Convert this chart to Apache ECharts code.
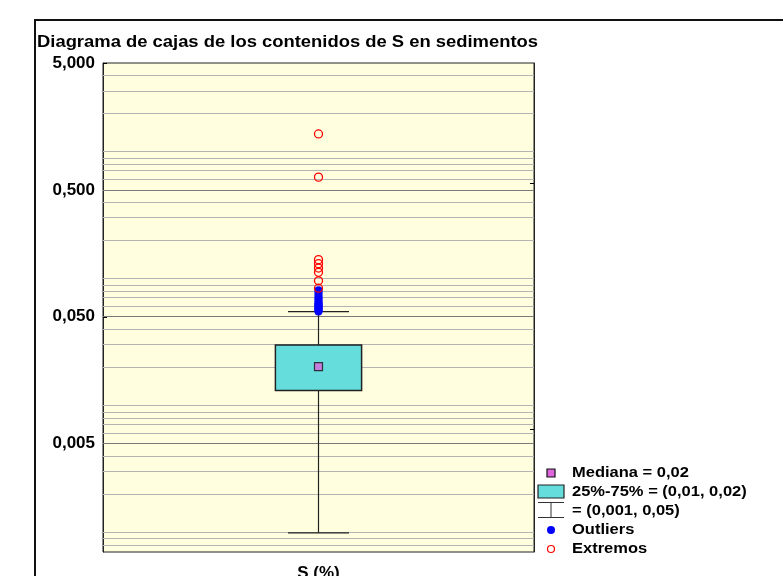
<!DOCTYPE html>
<html>
<head>
<meta charset="utf-8">
<script src="https://cdn.jsdelivr.net/npm/echarts@6/dist/echarts.min.js"></script>
<style>
  html, body { margin: 0; padding: 0; background: #fff; }
  #chart { width: 783px; height: 576px; }
</style>
</head>
<body>
<div id="chart"></div>
<script>
const categories = ['S (%)'];
const boxStats = [0.00099, 0.0131, 0.0202, 0.0299, 0.0548]; // min, q1, median, q3, max
const outliers = [0.055, 0.056, 0.057, 0.058, 0.059, 0.060, 0.061, 0.062, 0.063, 0.064,
                  0.066, 0.068, 0.070, 0.072, 0.075, 0.078, 0.081];
const extremes = [1.38, 0.63, 0.141, 0.131, 0.121, 0.112, 0.096, 0.084];
const labelValues = [0.005, 0.05, 0.5, 5];
const rightTickValues = [0.56, 0.06, 0.0065];
const gridValues = [0.0008, 0.0009, 0.001, 0.002, 0.003, 0.004, 0.006, 0.007, 0.008, 0.009,
                    0.01, 0.02, 0.03, 0.04, 0.06, 0.07, 0.08, 0.09,
                    0.1, 0.2, 0.3, 0.4, 0.6, 0.7, 0.8, 0.9, 1, 2, 3, 4];
const axisMin = 0.0007;
const axisMax = 5;
const titleText = 'Diagrama de cajas de los contenidos de S en sedimentos';
const legendLabels = ['Mediana = 0,02', '25%-75% = (0,01, 0,02)', '= (0,001, 0,05)', 'Outliers', 'Extremos'];

const lg = v => Math.log10(v);
const fontFam = '"Liberation Sans", Arial, sans-serif';

const chart = echarts.init(document.getElementById('chart'));

// gridlines drawn as markLines through the y scale
const gridLines = gridValues.map(v => ({ yAxis: lg(v) }))
  .concat(labelValues.slice(0, 3).map(v => ({ yAxis: lg(v), lineStyle: { color: '#7a7a7a' } })));

const renderBox = (params, api) => {
  const band = api.size([1, 0])[0];
  const cx = api.coord([api.value(0), 0])[0];
  const y = i => api.coord([api.value(0), api.value(i)])[1];
  const yMin = y(1), yQ1 = y(2), yQ3 = y(4), yMax = y(5);
  const boxW = band * 0.2;
  const capW = band * 0.1415;
  const ls = { stroke: '#222', lineWidth: 1.2 };
  return {
    type: 'group',
    children: [
      { type: 'line', shape: { x1: cx, y1: yMax, x2: cx, y2: yQ3 }, style: ls },
      { type: 'line', shape: { x1: cx, y1: yQ1, x2: cx, y2: yMin }, style: ls },
      { type: 'line', shape: { x1: cx - capW / 2, y1: yMax, x2: cx + capW / 2, y2: yMax }, style: ls },
      { type: 'line', shape: { x1: cx - capW / 2, y1: yMin, x2: cx + capW / 2, y2: yMin }, style: ls },
      { type: 'rect', shape: { x: cx - boxW / 2, y: yQ3, width: boxW, height: yQ1 - yQ3 },
        style: { fill: '#66dddd', stroke: '#222', lineWidth: 1.5 } }
    ]
  };
};

const legendY = [473, 491.5, 510.5, 530, 549];
const legendTexts = legendLabels.map((t, i) => ({
  type: 'text', x: 572, y: legendY[i], scaleX: 1.1,
  style: { text: t, x: 0, y: 0, font: 'bold 15px ' + fontFam, fill: '#000', verticalAlign: 'middle' }
}));

const option = {
  animation: false,
  backgroundColor: '#fff',
  grid: { left: 103, right: 249, top: 63, bottom: 24, show: true, outerBoundsMode: 'none',
          backgroundColor: '#ffffe0', borderColor: '#222', borderWidth: 1 },
  xAxis: {
    type: 'category', data: categories,
    axisLine: { show: true, lineStyle: { color: '#222' } },
    axisTick: { show: false },
    axisLabel: { margin: 13, fontSize: 17, fontWeight: 'bold', color: '#000', fontFamily: fontFam },
    splitLine: { show: false }
  },
  yAxis: [{
    type: 'value', min: lg(axisMin), max: lg(axisMax),
    axisLine: { show: true, lineStyle: { color: '#222' } },
    axisTick: { show: true, inside: true, length: 4, customValues: labelValues.map(lg), lineStyle: { color: '#000' } },
    axisLabel: { customValues: labelValues.map(lg), margin: 8, fontSize: 17, fontWeight: 'bold',
                 color: '#000', fontFamily: fontFam,
                 formatter: v => Math.pow(10, v).toFixed(3).replace('.', ',') },
    splitLine: { show: false }
  }, {
    type: 'value', position: 'right', min: lg(axisMin), max: lg(axisMax),
    axisLine: { show: true, lineStyle: { color: '#222' } },
    axisTick: { show: true, inside: true, length: 4, customValues: rightTickValues.map(lg), lineStyle: { color: '#000' } },
    axisLabel: { show: false },
    splitLine: { show: false }
  }],
  graphic: [
    { type: 'rect', shape: { x: 35, y: 20, width: 800, height: 600 },
      style: { fill: 'none', stroke: '#111', lineWidth: 2 } },
    { type: 'text', x: 37, y: 43, scaleX: 1.15,
      style: { text: titleText, x: 0, y: 0, font: 'bold 16px ' + fontFam, fill: '#000', verticalAlign: 'middle' } },
    { type: 'rect', shape: { x: 547, y: 469, width: 8, height: 8 },
      style: { fill: '#dd66dd', stroke: '#111', lineWidth: 1.2 } },
    { type: 'rect', shape: { x: 538, y: 485, width: 26, height: 13 },
      style: { fill: '#66dddd', stroke: '#222', lineWidth: 1.2 } },
    { type: 'line', shape: { x1: 538, y1: 502.5, x2: 564, y2: 502.5 }, style: { stroke: '#333', lineWidth: 1 } },
    { type: 'line', shape: { x1: 538, y1: 517.5, x2: 564, y2: 517.5 }, style: { stroke: '#333', lineWidth: 1 } },
    { type: 'line', shape: { x1: 551, y1: 502.5, x2: 551, y2: 517.5 }, style: { stroke: '#333', lineWidth: 1 } },
    { type: 'circle', shape: { cx: 551, cy: 530, r: 4 }, style: { fill: '#0000ff' } },
    { type: 'circle', shape: { cx: 551, cy: 549, r: 3.5 }, style: { fill: 'none', stroke: '#ff0000', lineWidth: 1.2 } }
  ].concat(legendTexts),
  series: [
    {
      type: 'line', data: [], z: 1, silent: true,
      markLine: { silent: true, z: 1, symbol: 'none', label: { show: false },
                  lineStyle: { color: '#b4b4b4', width: 1, type: 'solid' }, data: gridLines }
    },
    {
      type: 'custom', z: 3, renderItem: renderBox,
      data: [[0].concat(boxStats.map(lg))]
    },
    {
      type: 'scatter', z: 4, symbol: 'rect', symbolSize: 8,
      itemStyle: { color: '#dd66dd', borderColor: '#111', borderWidth: 1.2 },
      data: [[0, lg(boxStats[2])]]
    },
    {
      type: 'scatter', z: 5, symbol: 'circle', symbolSize: 8,
      itemStyle: { color: '#0000ff', opacity: 1 },
      data: outliers.map(v => [0, lg(v)])
    },
    {
      type: 'scatter', z: 6, symbol: 'circle', symbolSize: 8,
      itemStyle: { color: 'rgba(0,0,0,0)', borderColor: '#ff0000', borderWidth: 1.3, opacity: 1 },
      data: extremes.map(v => [0, lg(v)])
    }
  ]
};

chart.setOption(option);
</script>
</body>
</html>
